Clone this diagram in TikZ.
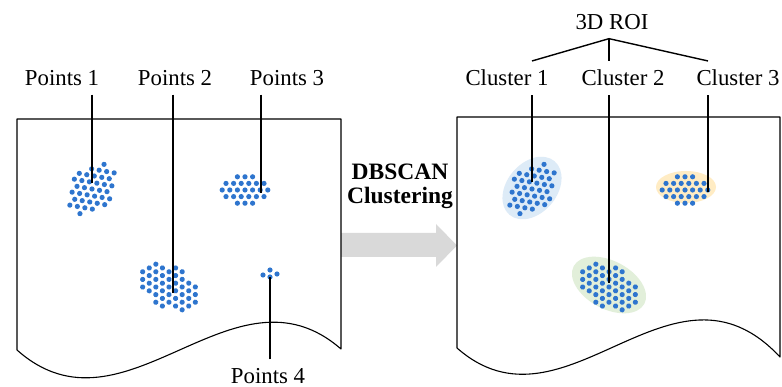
\documentclass[tikz,border=0pt]{standalone}
\usepackage{fontspec}
\setmainfont{Liberation Serif}
\definecolor{DotBlue}{RGB}{46,117,206}
\definecolor{ROIBlue}{RGB}{221,235,247}
\definecolor{ROIGreen}{RGB}{226,239,218}
\definecolor{ROIOrange}{RGB}{255,236,196}
\definecolor{FlowGray}{RGB}{217,217,217}

% cloud of points: centre x, centre y, angle, half axes a, b
\newcommand{\pointcloud}[5]{%
    \begin{scope}[shift={(#1,#2)}, rotate=#3]
        \foreach \r in {-5,...,5}{
            \foreach \c in {-7,...,7}{
                \pgfmathsetmacro{\u}{\c*7.6+abs(mod(\r,2))*3.8}
                \pgfmathsetmacro{\v}{\r*6.6}
                \pgfmathtruncatemacro{\inside}{((\u/#4)^2+(\v/#5)^2<=1) ? 1 : 0}
                \ifnum\inside=1 \fill[cloudpt] (\u,\v) circle[radius=2.6pt]; \fi
            }
        }
    \end{scope}}

\begin{document}
\begin{tikzpicture}[
        x=1pt, y=-1pt,
        page/.style={
            draw=black,
            fill=white,
            line width=1.1pt,
            line join=round
        },
        lbl/.style={
            font=\fontsize{22.8}{27}\selectfont,
            inner sep=1pt,
            outer ysep=8pt
        },
        pointer/.style={draw=black, line width=1.8pt},
        branch/.style={draw=black, line width=1.4pt},
        cloudpt/.style={fill=DotBlue},
        flow/.style={fill=FlowGray}
    ]
        \useasboundingbox (0,0) rectangle (782,387);

        % flow arrow between the two frames
        \fill[flow] (338,233) -- (436,233) -- (436,224) -- (457,245.5)
            -- (436,267) -- (436,257) -- (338,257) -- cycle;
        \node[font=\bfseries\fontsize{23.5}{24}\selectfont, align=center] (db) at (400,186) {DBSCAN\\Clustering};

        % left frame: raw points
        \draw[page] (17,119) -- (17,350) .. controls (125,446) and (233,255) .. (341,349) -- (341,119) -- cycle;
        \pointcloud{92}{189}{50}{29}{20}
        \pointcloud{169}{287}{-30}{34}{21}
        \pointcloud{245}{190}{0}{27}{14}
        \foreach \px/\py in {263/275, 270/270, 277/274, 270/277}
            \fill[cloudpt] (\px,\py) circle[radius=2.6pt];

        \coordinate (q1) at (92,183);
        \coordinate (q2) at (173,293);
        \coordinate (q3) at (261,193);
        \coordinate (q4) at (270,277);
        \node[lbl] (p1) at (62,78) {Points 1};
        \node[lbl] (p2) at (175,78) {Points 2};
        \node[lbl] (p3) at (287,78) {Points 3};
        \node[lbl] (p4) at (268,376) {Points 4};
        \draw[pointer] (p1.south -| q1) -- (q1);
        \draw[pointer] (p2.south -| q2) -- (q2);
        \draw[pointer] (p3.south -| q3) -- (q3);
        \draw[pointer] (p4.north -| q4) -- (q4);

        % right frame: clusters
        \draw[page] (457,117) -- (457,348) .. controls (565,443) and (672,241) .. (780,357) -- (780,117) -- cycle;
        \fill[ROIBlue, rotate around={50:(532,188)}] (532,188) ellipse[x radius=35, y radius=25];
        \fill[ROIGreen, rotate around={-28:(609,285)}] (609,285) ellipse[x radius=40, y radius=24];
        \fill[ROIOrange] (686,187) ellipse[x radius=30, y radius=16];
        \pointcloud{532}{189}{50}{29}{20}
        \pointcloud{609}{287}{-30}{34}{21}
        \pointcloud{685}{190}{0}{27}{14}

        \coordinate (k1) at (532,182);
        \coordinate (k2) at (609,283);
        \coordinate (k3) at (708,192);
        \node[lbl] (roi) at (612,22) {3D ROI};
        \node[lbl] (c1) at (507,78) {Cluster 1};
        \node[lbl] (c2) at (623,78) {Cluster 2};
        \node[lbl] (c3) at (738,78) {Cluster 3};
        \coordinate (fork) at (roi.south -| k2);
        \draw[branch] (fork) -- (c1.north -| k1);
        \draw[branch] (fork) -- (c2.north -| k2);
        \draw[branch] (fork) -- (c3.north -| k3);
        \draw[pointer] (c1.south -| k1) -- (k1);
        \draw[pointer] (c2.south -| k2) -- (k2);
        \draw[pointer] (c3.south -| k3) -- (k3);
    \end{tikzpicture}
\end{document}
